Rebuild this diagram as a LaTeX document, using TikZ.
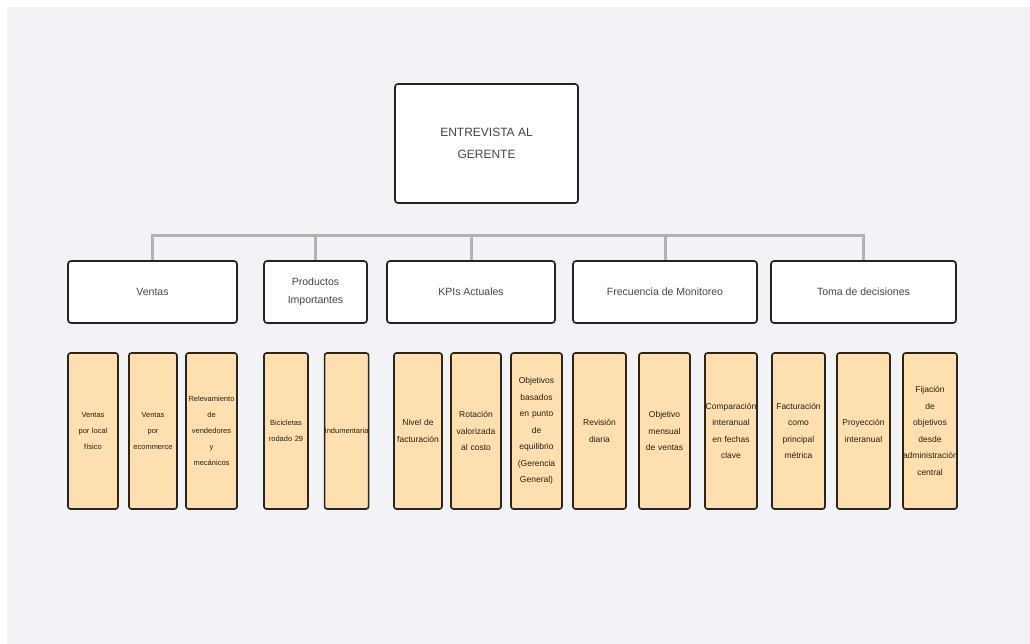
\documentclass[tikz,border=0pt]{standalone}
\usepackage{fontspec}
\setmainfont{Liberation Sans}
\usepackage{tikz}
\usetikzlibrary{positioning}
\definecolor{panelbg}{RGB}{242,243,247}
\definecolor{leaffill}{RGB}{253,223,176}
\definecolor{leafline}{RGB}{45,35,25}
\definecolor{leaftext}{RGB}{40,30,15}
\definecolor{boxline}{RGB}{35,35,35}
\definecolor{linkgray}{RGB}{178,178,178}
\definecolor{labelgray}{RGB}{70,70,70}
\tikzset{
  rootbox/.style={draw=boxline, fill=white, line width=1.6pt, rounded corners=3pt,
    minimum width=183pt, minimum height=119pt, align=center, text=labelgray,
    font=\fontsize{12}{22}\selectfont},
  topicbox/.style={draw=boxline, fill=white, line width=1.6pt, rounded corners=3pt,
    minimum width=#1, minimum height=62pt, align=center, text=labelgray,
    font=\fontsize{10.5}{18}\selectfont},
  leafbox/.style={draw=leafline, fill=leaffill, line width=1.6pt, rounded corners=2.5pt,
    minimum width=#1, text width=#1, minimum height=156pt, inner xsep=0pt, align=center,
    text=leaftext, font=\fontsize{8.5}{16.5}\selectfont},
  smallleaf/.style={leafbox=#1, font=\fontsize{7.5}{16}\selectfont},
  link/.style={draw=linkgray, line width=3pt},
}
\begin{document}
\begin{tikzpicture}[x=1pt, y=-1pt]
    % background
    \useasboundingbox (0,0) rectangle (1030,644);
    \fill[white] (0,0) rectangle (1030,644);
    \fill[panelbg] (7,7) rectangle (1030,644);
    % root
    \node[rootbox] (root) at (486.5,143.5) {ENTREVISTA AL\\GERENTE};
    % topics
    \node[topicbox=169pt] (ventas) at (152.5,292) {Ventas};
    \node[topicbox=103pt] (productos) at (315.5,292) {Productos\\Importantes};
    \node[topicbox=168pt] (kpis) at (471,292) {KPIs Actuales};
    \node[topicbox=184pt] (frecuencia) at (665,292) {Frecuencia de Monitoreo};
    \node[topicbox=185pt] (toma) at (863.5,292) {Toma de decisiones};
    % bar
    \coordinate (bar) at (486.5,236);
    \draw[link] (ventas.north) -- (ventas.north |- bar) -- (toma.north |- bar) -- (toma.north);
    \draw[link] (productos.north) -- (productos.north |- bar);
    \draw[link] (kpis.north) -- (kpis.north |- bar);
    \draw[link] (frecuencia.north) -- (frecuencia.north |- bar);
    % ventas leaves
    \node[smallleaf=50pt] (ventas_local) at (93,431) {Ventas\\por local\\físico};
    \node[smallleaf=48pt] (ventas_ecom) at (153,431) {Ventas\\por\\ecommerce};
    \node[smallleaf=51pt] (ventas_rel) at (211.5,431) {Relevamiento\\de\\vendedores\\y\\mecánicos};
    % productos leaves
    \node[smallleaf=44pt] (prod_bici) at (286,431) {Bicicletas\\rodado 29};
    \node[smallleaf=44pt, right=15pt of prod_bici] (prod_indu) {Indumentaria};
    % kpis leaves
    \node[leafbox=48pt] (kpi_fact) at (418,431) {Nivel de\\facturación};
    \node[leafbox=50pt] (kpi_rot) at (476,431) {Rotación\\valorizada\\al costo};
    \node[leafbox=51pt] (kpi_obj) at (536.5,431) {Objetivos\\basados\\en punto\\de\\equilibrio\\(Gerencia\\General)};
    % frecuencia leaves
    \node[leafbox=53pt] (frec_diaria) at (599.5,431) {Revisión\\diaria};
    \node[leafbox=51pt] (frec_mensual) at (664.5,431) {Objetivo\\mensual\\de ventas};
    \node[leafbox=52pt] (frec_comp) at (731,431) {Comparación\\interanual\\en fechas\\clave};
    % toma leaves
    \node[leafbox=53pt] (toma_fact) at (798.5,431) {Facturación\\como\\principal\\métrica};
    \node[leafbox=53pt] (toma_proy) at (863.5,431) {Proyección\\interanual};
    \node[leafbox=54pt] (toma_fij) at (930,431) {Fijación\\de\\objetivos\\desde\\administración\\central};
\end{tikzpicture}
\end{document}
